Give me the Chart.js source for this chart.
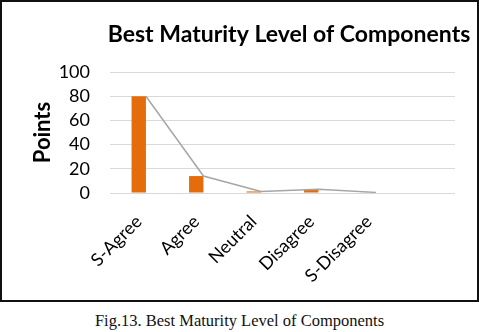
<!DOCTYPE html>
<html lang="en">
<head>
    <meta charset="UTF-8">
    <title>Best Maturity Level of Components</title>
    <script src="https://cdn.jsdelivr.net/npm/chart.js"></script>
    <style>
        body { margin: 0; background: #fff; width: 479px; height: 332px; position: relative; overflow: hidden; }
        #chart-box { position: absolute; left: 0; top: 0; width: 479px; height: 302px; border: 2px solid #111; box-sizing: border-box; }
        #caption { position: absolute; left: 0; top: 313px; width: 479px; text-align: center; font-family: 'Liberation Serif', 'Times New Roman', serif; font-size: 16.5px; line-height: 16px; color: #111; }
    </style>
</head>
<body>
    <div id="chart-box"><canvas id="maturity-chart"></canvas></div>
    <div id="caption">Fig.13. Best Maturity Level of Components</div>

    <script>
        // data
        const categories = ['S-Agree', 'Agree', 'Neutral', 'Disagree', 'S-Disagree', ''];
        const points = [80, 14, 1.3, 3, 0.5, null];
        const yTicks = [0, 20, 40, 60, 80, 100];

        const orange = '#E46C0A';
        const grey = '#A6A6A6';

        // the grey line in the original sits on the right edge of each column
        const lineOffset = 0.125;
        const lineData = points
            .map((v, i) => ({ x: i + lineOffset, y: v }))
            .filter(p => p.y !== null);

        const titlePlugin = {
            id: 'chartTitle',
            afterDraw(chart) {
                const ctx = chart.ctx;
                ctx.save();
                ctx.font = 'bold 23px Lato';
                ctx.fillStyle = '#000';
                ctx.textAlign = 'center';
                ctx.textBaseline = 'alphabetic';
                ctx.fillText('Best Maturity Level of Components', 287, 40);
                ctx.restore();
            }
        };

        new Chart(document.getElementById('maturity-chart'), {
            type: 'bar',
            data: {
                labels: categories,
                datasets: [{
                    label: 'Points',
                    data: points,
                    backgroundColor: orange,
                    grouped: false,
                    categoryPercentage: 1,
                    barPercentage: 0.25,
                    order: 2
                }, {
                    type: 'line',
                    label: 'Trend',
                    data: lineData,
                    xAxisID: 'xLine',
                    borderColor: grey,
                    borderWidth: 1.5,
                    pointRadius: 0,
                    tension: 0,
                    order: 1
                }]
            },
            options: {
                responsive: true,
                maintainAspectRatio: false,
                animation: false,
                layout: { padding: { top: 70, right: 22, bottom: 0, left: 0 } },
                plugins: {
                    legend: { display: false },
                    tooltip: { enabled: false }
                },
                scales: {
                    x: {
                        afterFit(axis) { axis.height = 107; },
                        grid: { display: false, drawTicks: false },
                        border: { display: false },
                        ticks: {
                            minRotation: 45,
                            maxRotation: 45,
                            autoSkip: false,
                            padding: 18,
                            color: '#000',
                            font: { family: 'Lato', size: 18 }
                        }
                    },
                    xLine: {
                        type: 'linear',
                        display: false,
                        offset: false,
                        min: -0.5,
                        max: categories.length - 0.5
                    },
                    y: {
                        min: 0,
                        max: 100,
                        afterBuildTicks(axis) { axis.ticks = yTicks.map(v => ({ value: v })); },
                        afterFit(axis) { axis.width = 108; },
                        grid: { color: '#D9D9D9', lineWidth: 1, drawTicks: false },
                        border: { display: false },
                        ticks: {
                            autoSkip: false,
                            padding: 20,
                            color: '#000',
                            font: { family: 'Lato', size: 18 }
                        },
                        title: {
                            display: true,
                            text: 'Points',
                            color: '#000',
                            padding: { top: 28, bottom: 0 },
                            font: { family: 'Lato', size: 22, weight: 'bold' }
                        }
                    }
                }
            },
            plugins: [titlePlugin]
        });
    </script>
</body>
</html>
